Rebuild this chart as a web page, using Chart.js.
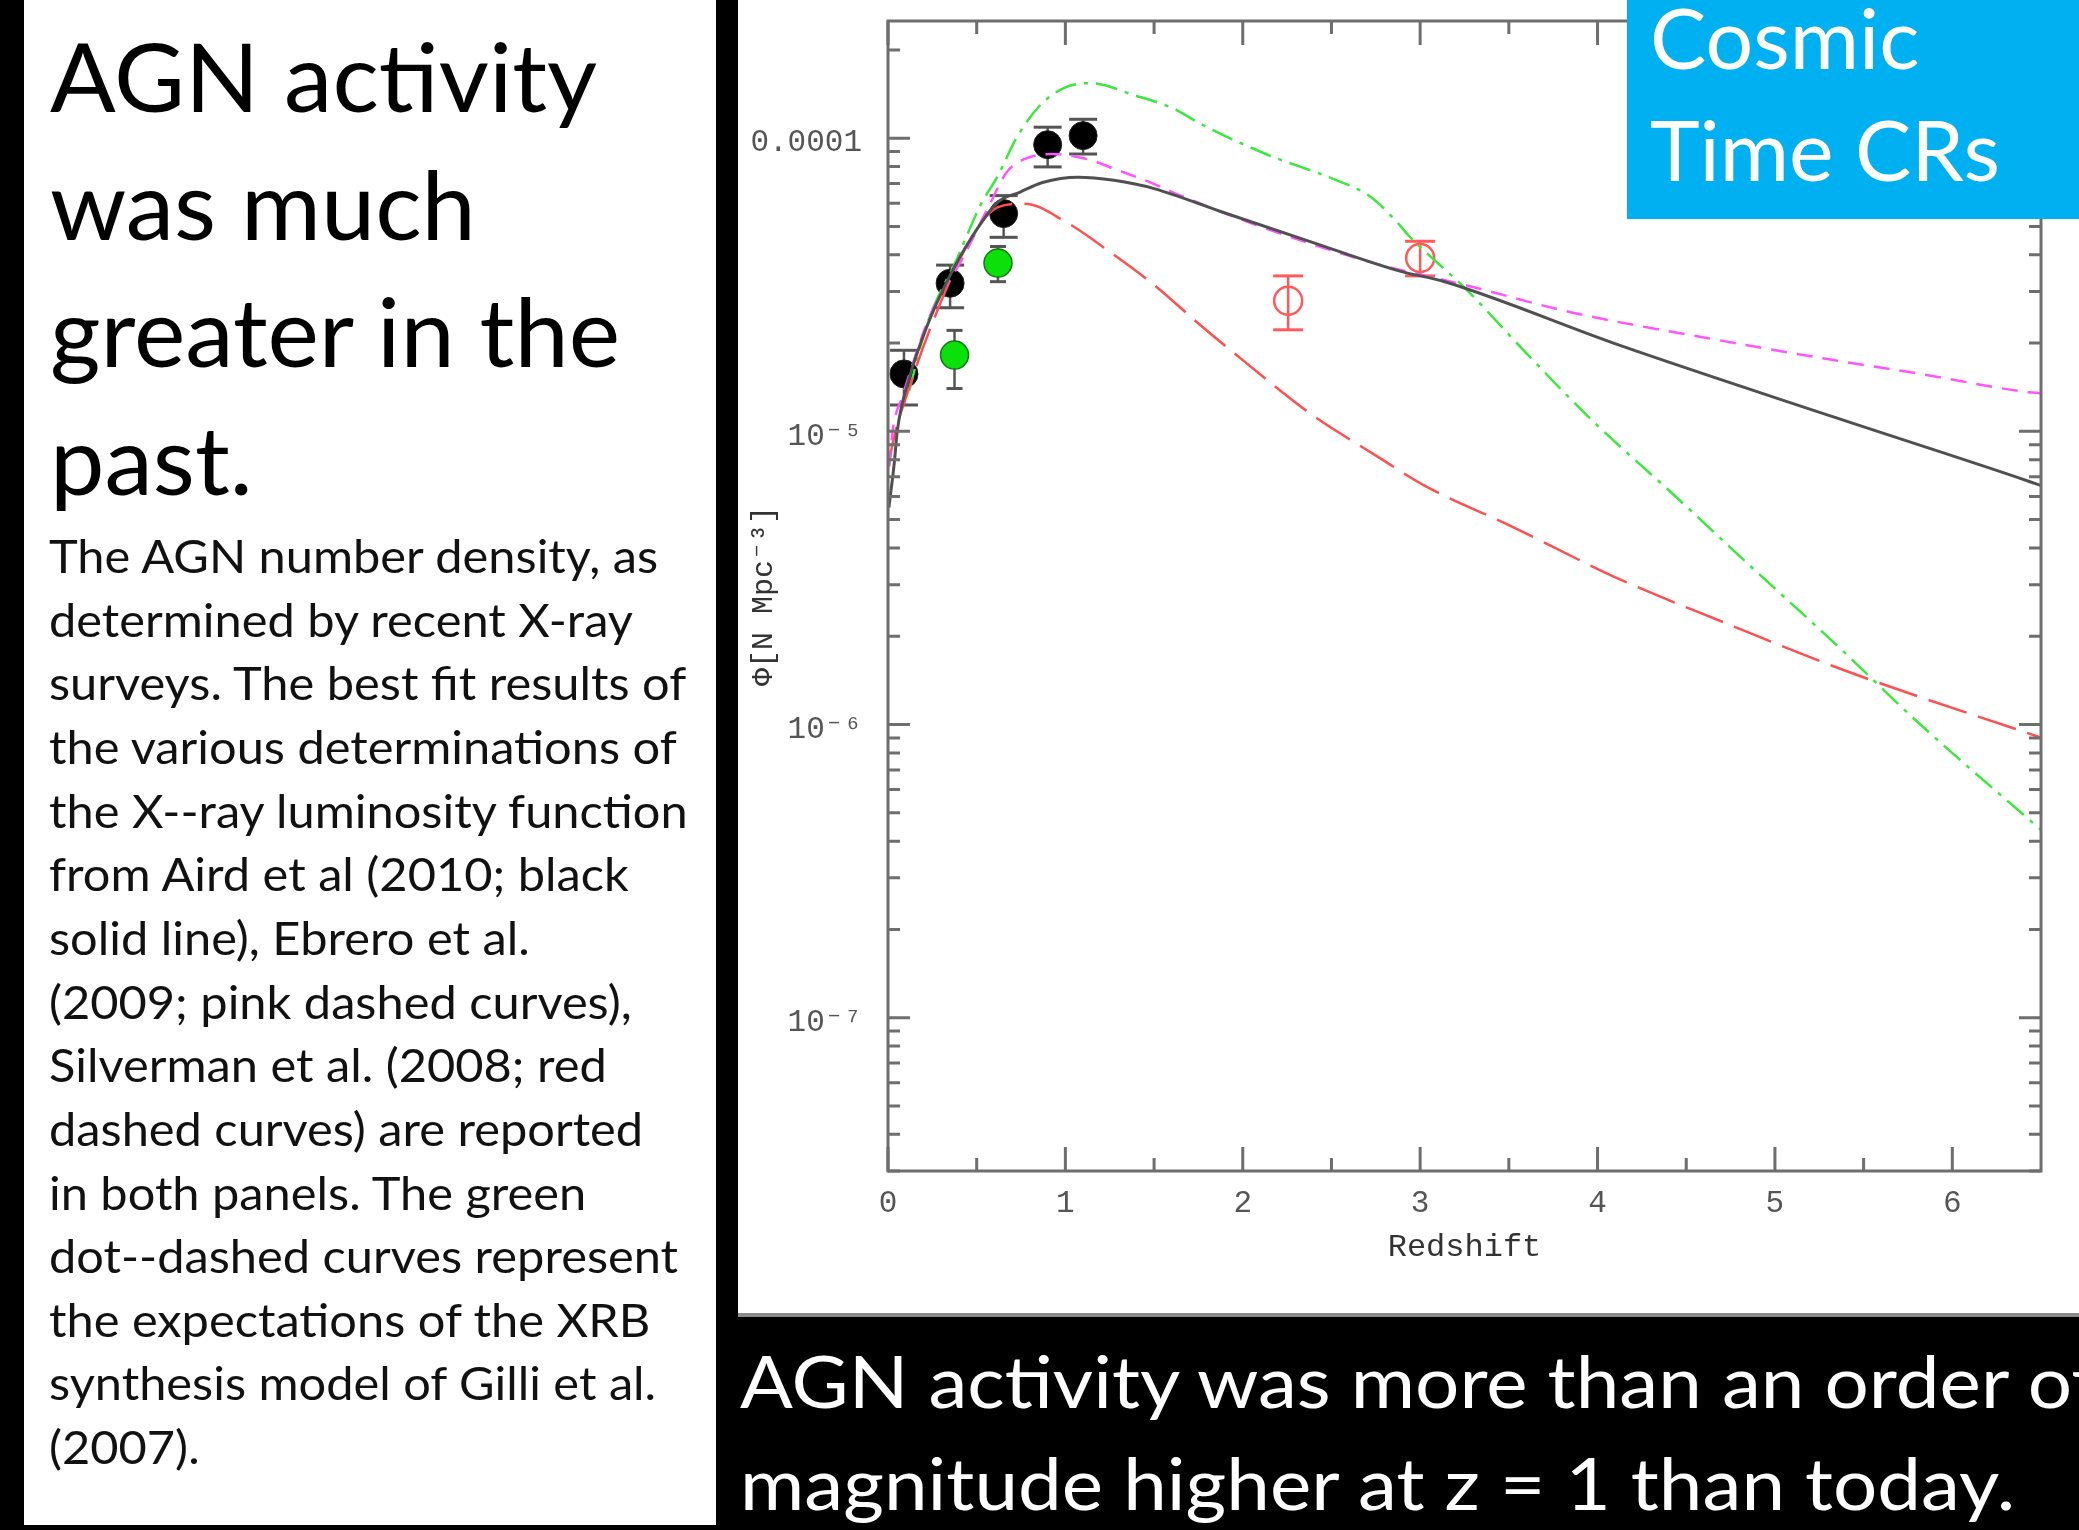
<!DOCTYPE html>
<html lang="en">
<head>
<meta charset="utf-8">
<title>AGN number density vs redshift</title>
<script src="https://cdn.jsdelivr.net/npm/chart.js@4.4.1/dist/chart.umd.min.js"></script>
<style>
  html, body { margin: 0; padding: 0; background: #000; }
  body { position: relative; width: 2079px; height: 1530px; overflow: hidden; }
  .panel { position: absolute; background: #fff; }
  #left { left: 24px; top: 0; width: 692px; height: 1525px; }
  #plot { left: 738px; top: 0; width: 1341px; height: 1317px; }
  #plotEdge { position: absolute; left: 738px; top: 1313px; width: 1341px; height: 4px; background: #8a8a8a; }
  #cosmic { position: absolute; left: 1627px; top: 0; width: 452px; height: 219px; background: #00b0f0; }
  #texts { position: absolute; left: 0; top: 0; }
</style>
</head>
<body>
<div class="panel" id="left"></div>
<div class="panel" id="plot"><canvas id="graficoAGN"></canvas></div>
<div id="plotEdge"></div>
<div id="cosmic"></div>

<svg id="texts" width="2079" height="1530" font-family="Lato, 'Open Sans', sans-serif">
  <g id="titleBlock" font-size="94" fill="#000">
    <text x="50" y="112">AGN activity</text>
    <text x="50" y="240">was much</text>
    <text x="50" y="367">greater in the</text>
    <text x="50" y="495">past.</text>
  </g>
  <g id="bodyBlock" font-size="46" fill="#111">
    <text x="49" y="573">The AGN number density, as</text>
    <text x="49" y="637">determined by recent X-ray</text>
    <text x="49" y="700">surveys. The best fit results of</text>
    <text x="49" y="764">the various determinations of</text>
    <text x="49" y="828">the X--ray luminosity function</text>
    <text x="49" y="891">from Aird et al (2010; black</text>
    <text x="49" y="955">solid line), Ebrero et al.</text>
    <text x="49" y="1019">(2009; pink dashed curves),</text>
    <text x="49" y="1082">Silverman et al. (2008; red</text>
    <text x="49" y="1146">dashed curves) are reported</text>
    <text x="49" y="1210">in both panels. The green</text>
    <text x="49" y="1273">dot--dashed curves represent</text>
    <text x="49" y="1337">the expectations of the XRB</text>
    <text x="49" y="1400">synthesis model of Gilli et al.</text>
    <text x="49" y="1464">(2007).</text>
  </g>
  <g id="captionBlock" font-size="71" fill="#fff">
    <text x="740" y="1408">AGN activity was more than an order of</text>
    <text x="740" y="1510">magnitude higher at z = 1 than today.</text>
  </g>
  <g id="cosmicBlock" font-size="84" fill="#fff">
    <text x="1650" y="69">Cosmic</text>
    <text x="1650" y="181">Time CRs</text>
  </g>
</svg>

<script>
// Aird et al. (2010), black solid line
const airdZ   = [0.005, 0.035, 0.053, 0.116, 0.217, 0.342, 0.468, 0.619, 0.745, 0.871, 1.072, 1.274, 1.50, 1.879, 2.38, 2.886, 3.13, 4.11, 5.33, 6.43, 6.5];
const airdPhi = [5.50e-6, 7.76e-6, 1.01e-5, 1.49e-5, 2.26e-5, 3.33e-5, 4.55e-5, 6.05e-5, 6.55e-5, 7.06e-5, 7.36e-5, 7.18e-5, 6.73e-5, 5.61e-5, 4.44e-5, 3.52e-5, 3.25e-5, 1.98e-5, 1.12e-5, 6.76e-6, 6.53e-6];

// Ebrero et al. (2009), pink dashed
const ebreroZ   = [0.005, 0.03, 0.08, 0.24, 0.42, 0.57, 0.67, 0.77, 0.92, 1.12, 1.30, 1.475, 1.625, 2.13, 2.76, 3.25, 3.86, 4.6, 5.33, 5.82, 6.43, 6.5];
const ebreroPhi = [7.59e-6, 1.04e-5, 1.31e-5, 2.51e-5, 3.89e-5, 5.89e-5, 7.66e-5, 8.49e-5, 8.83e-5, 8.49e-5, 7.76e-5, 7.08e-5, 6.46e-5, 4.92e-5, 3.72e-5, 3.16e-5, 2.54e-5, 2.09e-5, 1.75e-5, 1.57e-5, 1.36e-5, 1.35e-5];

// Silverman et al. (2008), red dashed
const silvermanZ   = [0.005, 0.02, 0.12, 0.27, 0.47, 0.62, 0.77, 1.0, 1.25, 1.50, 1.755, 2.00, 2.38, 2.76, 3.03, 3.50, 4.11, 4.72, 5.33, 5.82, 6.43, 6.5];
const silvermanPhi = [7.59e-6, 8.71e-6, 1.41e-5, 2.51e-5, 4.57e-5, 5.82e-5, 5.98e-5, 5.19e-5, 4.10e-5, 3.16e-5, 2.32e-5, 1.75e-5, 1.15e-5, 8.20e-6, 6.50e-6, 4.79e-6, 3.16e-6, 2.22e-6, 1.58e-6, 1.24e-6, 9.33e-7, 9.02e-7];

// Gilli et al. (2007) XRB model, green dot-dashed
const gilliZ   = [0.12, 0.22, 0.39, 0.52, 0.62, 0.72, 0.85, 1.0, 1.15, 1.375, 1.625, 1.75, 2.13, 2.51, 2.71, 2.86, 2.94, 3.25, 3.62, 3.99, 4.40, 4.84, 5.33, 5.82, 6.5];
const gilliPhi = [1.38e-5, 2.32e-5, 3.89e-5, 5.89e-5, 7.45e-5, 9.91e-5, 1.28e-4, 1.49e-4, 1.54e-4, 1.41e-4, 1.25e-4, 1.13e-4, 8.83e-5, 7.26e-5, 6.37e-5, 5.25e-5, 4.62e-5, 3.09e-5, 1.79e-5, 1.06e-5, 6.31e-6, 3.57e-6, 1.91e-6, 1.00e-6, 4.37e-7];

// measured points
const blackPtZ   = [0.09, 0.35, 0.652, 0.90, 1.10];
const blackPtPhi = [1.57e-5, 3.20e-5, 5.53e-5, 9.50e-5, 1.02e-4];
const blackPtLo  = [1.23e-5, 2.64e-5, 4.59e-5, 7.98e-5, 8.83e-5];
const blackPtHi  = [1.89e-5, 3.69e-5, 6.37e-5, 1.09e-4, 1.16e-4];

const greenPtZ   = [0.375, 0.62];
const greenPtPhi = [1.82e-5, 3.75e-5];
const greenPtLo  = [1.40e-5, 3.24e-5];
const greenPtHi  = [2.21e-5, 4.27e-5];

const redPtZ   = [2.256, 3.0];
const redPtPhi = [2.79e-5, 3.90e-5];
const redPtLo  = [2.22e-5, 3.39e-5];
const redPtHi  = [3.39e-5, 4.45e-5];

const xTickValues = [0, 1, 2, 3, 4, 5, 6];
const xTickLabels = ['0', '1', '2', '3', '4', '5', '6'];
const xMinorValues = [0.5, 1.5, 2.5, 3.5, 4.5, 5.5];
const yTickValues = [1e-4, 1e-5, 1e-6, 1e-7];
const yTickLabels = ['0.0001', '10⁻⁵', '10⁻⁶', '10⁻⁷'];

const mono = "'Liberation Mono', 'DejaVu Sans Mono', monospace";
const corEixo = '#6e6e6e';

const toPoints = (zs, phis) => zs.map((z, i) => ({ x: z, y: phis[i] }));
const toBars = (zs, lo, hi) => zs.flatMap((z, i) => [{ x: z, y: lo[i] }, { x: z, y: hi[i] }, { x: z, y: null }]);

function curva(label, zs, phis, cor, dash, largura) {
  return {
    label,
    data: toPoints(zs, phis),
    showLine: true,
    borderColor: cor,
    borderWidth: largura,
    borderDash: dash,
    pointRadius: 0,
    cubicInterpolationMode: 'monotone',
    order: 0,
  };
}

function barras(label, zs, lo, hi, cor, cap) {
  return {
    label,
    data: toBars(zs, lo, hi),
    showLine: true,
    spanGaps: false,
    borderColor: cor,
    borderWidth: 2.5,
    pointStyle: 'line',
    pointRadius: cap,
    pointBorderWidth: 3,
    pointBorderColor: cor,
    order: 3,
  };
}

// inward ticks on all four sides plus the box
const marcasDeEixo = {
  id: 'marcasDeEixo',
  afterDraw(chart) {
    const { ctx, chartArea: a, scales: { x, y } } = chart;
    ctx.save();
    ctx.strokeStyle = corEixo;
    ctx.lineWidth = 3;
    ctx.beginPath();
    const risco = (x1, y1, x2, y2) => { ctx.moveTo(x1, y1); ctx.lineTo(x2, y2); };
    xTickValues.forEach(v => {
      const px = x.getPixelForValue(v);
      risco(px, a.bottom, px, a.bottom - 24);
      risco(px, a.top, px, a.top + 24);
    });
    xMinorValues.forEach(v => {
      const px = x.getPixelForValue(v);
      risco(px, a.bottom, px, a.bottom - 13);
      risco(px, a.top, px, a.top + 13);
    });
    yTickValues.forEach(v => {
      const py = y.getPixelForValue(v);
      risco(a.left, py, a.left + 22, py);
      risco(a.right, py, a.right - 22, py);
    });
    for (let d = 1e-8; d < 1e-3; d *= 10) {
      for (let m = 2; m <= 9; m++) {
        const v = m * d;
        if (v < y.min || v > y.max) continue;
        const py = y.getPixelForValue(v);
        risco(a.left, py, a.left + 12, py);
        risco(a.right, py, a.right - 12, py);
      }
    }
    ctx.stroke();
    ctx.strokeRect(a.left, a.top, a.right - a.left, a.bottom - a.top);
    ctx.restore();
  },
};

const graficoAGN = new Chart(document.getElementById('graficoAGN'), {
  type: 'scatter',
  data: {
    datasets: [
      curva('Aird et al. 2010', airdZ, airdPhi, '#505050', [], 3),
      curva('Ebrero et al. 2009', ebreroZ, ebreroPhi, '#ff55ff', [16, 10], 2.5),
      curva('Silverman et al. 2008', silvermanZ, silvermanPhi, '#ff5050', [40, 12], 2.5),
      curva('Gilli et al. 2007', gilliZ, gilliPhi, '#3be83b', [22, 8, 4, 8], 2.5),
      {
        label: 'black points',
        data: toPoints(blackPtZ, blackPtPhi),
        pointRadius: 14,
        pointBackgroundColor: '#000',
        pointBorderColor: '#222',
        pointBorderWidth: 1,
        order: 2,
      },
      {
        label: 'green points',
        data: toPoints(greenPtZ, greenPtPhi),
        pointRadius: 14,
        pointBackgroundColor: '#0be00b',
        pointBorderColor: '#127a12',
        pointBorderWidth: 1.5,
        order: 2,
      },
      {
        label: 'red points',
        data: toPoints(redPtZ, redPtPhi),
        pointRadius: 14,
        pointBackgroundColor: 'rgba(255,255,255,0)',
        pointBorderColor: '#ff5a5a',
        pointBorderWidth: 2.5,
        order: 2,
      },
      barras('black bars', blackPtZ, blackPtLo, blackPtHi, '#555', 14),
      barras('green bars', greenPtZ, greenPtLo, greenPtHi, '#555', 8),
      barras('red bars', redPtZ, redPtLo, redPtHi, '#ff5a5a', 15),
    ],
  },
  options: {
    responsive: true,
    maintainAspectRatio: false,
    animation: false,
    layout: { autoPadding: false, padding: { left: 0, top: 21, right: 38, bottom: 0 } },
    plugins: { legend: { display: false }, tooltip: { enabled: false } },
    scales: {
      x: {
        type: 'linear',
        position: 'bottom',
        min: 0,
        max: 6.5,
        grid: { display: false, drawTicks: false },
        border: { display: false },
        afterBuildTicks: (s) => { s.ticks = xTickValues.map(v => ({ value: v })); },
        afterFit: (s) => { s.height = 146; s.paddingLeft = 0; s.paddingRight = 0; },
        ticks: {
          autoSkip: false,
          maxRotation: 0,
          padding: 14,
          color: '#555',
          font: { family: mono, size: 31 },
          callback: (v, i) => xTickLabels[i],
        },
        title: {
          display: true,
          text: 'Redshift',
          color: '#333',
          font: { family: mono, size: 32 },
          padding: { top: 0, bottom: 50 },
        },
      },
      y: {
        type: 'logarithmic',
        position: 'left',
        min: 3.24e-8,
        max: 2.51e-4,
        grid: { display: false, drawTicks: false },
        border: { display: false },
        afterBuildTicks: (s) => { s.ticks = yTickValues.map(v => ({ value: v })); },
        afterFit: (s) => { s.width = 150; s.paddingTop = 0; s.paddingBottom = 0; },
        ticks: {
          autoSkip: false,
          padding: 26,
          labelOffset: 5,
          color: '#555',
          font: { family: mono, size: 31 },
          callback: (v, i) => yTickLabels[i],
        },
        title: {
          display: true,
          text: 'Φ[N Mpc⁻³]',
          color: '#333',
          font: { family: mono, size: 30 },
          padding: { top: 8, bottom: 0 },
        },
      },
    },
  },
  plugins: [marcasDeEixo],
});

// stretch each text block so that one known line has the reference width
function ajustaBloco(id, indice, largura) {
  const g = document.getElementById(id);
  const t = g.querySelectorAll('text')[indice];
  const w = t.getComputedTextLength();
  if (!w) return;
  const s = largura / w;
  const x0 = parseFloat(t.getAttribute('x'));
  g.setAttribute('transform', `translate(${x0} 0) scale(${s} 1) translate(${-x0} 0)`);
}

function ajustaTextos() {
  ajustaBloco('titleBlock', 2, 570);
  ajustaBloco('bodyBlock', 0, 609);
  ajustaBloco('captionBlock', 1, 1275);
  ajustaBloco('cosmicBlock', 1, 350);
}
ajustaTextos();
document.fonts.ready.then(ajustaTextos);
</script>
</body>
</html>
